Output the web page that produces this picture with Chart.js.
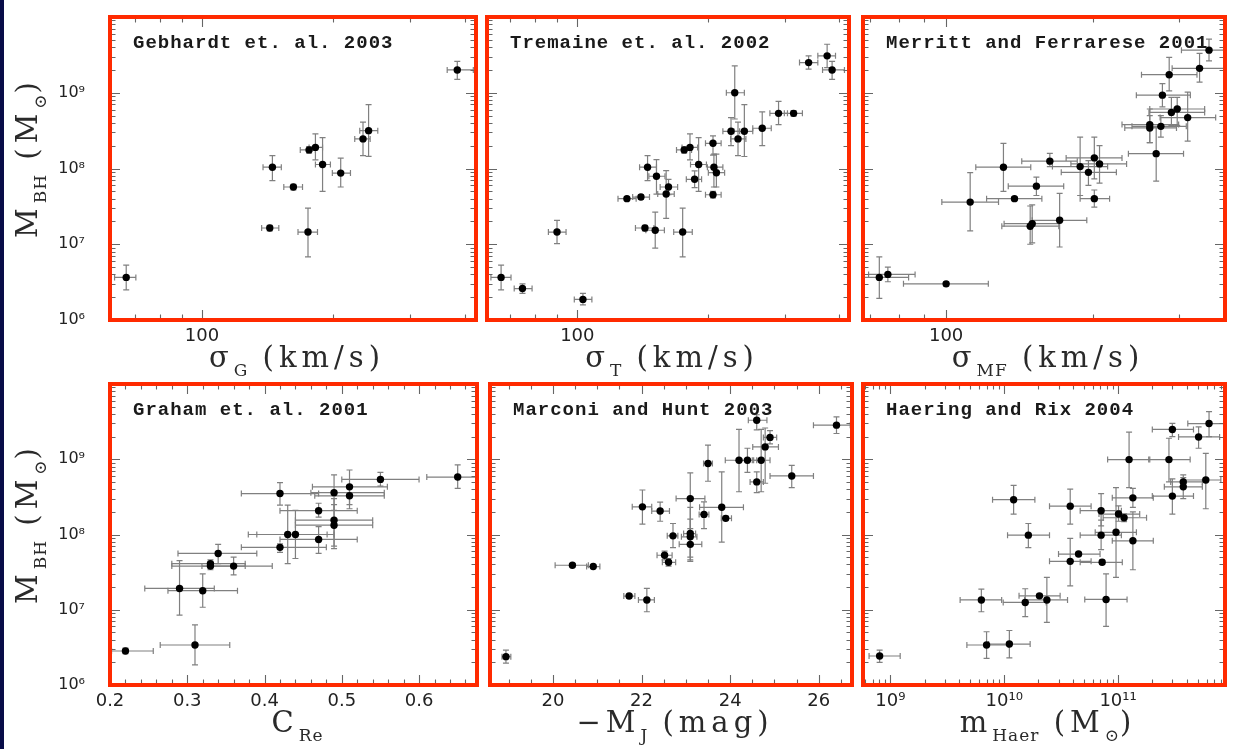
<!DOCTYPE html>
<html>
<head>
<meta charset="utf-8">
<script src="https://cdn.jsdelivr.net/npm/chart.js@4.4.1/dist/chart.umd.min.js"></script>
<style>
  body { margin: 0; background: #fff; width: 1234px; height: 749px; position: relative; overflow: hidden; }
  #strip { position: absolute; left: 0; top: 0; width: 4px; height: 749px; background: #080c48; }
  canvas { position: absolute; }
</style>
</head>
<body>
<div id="strip"></div>
<canvas id="p1"></canvas><canvas id="p2"></canvas><canvas id="p3"></canvas>
<canvas id="p4"></canvas><canvas id="p5"></canvas><canvas id="p6"></canvas>
<script>
// each point: [x, M_BH, x low, x high, M low, M high]
const gebhardt = [
  [67, 3.65e6, 63, 70.5, 2.5e6, 5.3e6], [385, 2.0e9, 365, 419, 1.5e9, 2.6e9],
  [145, 1.04e8, 138, 152, 6.9e7, 1.48e8], [143, 1.64e7, 137, 150, 1.5e7, 1.78e7],
  [162, 5.7e7, 154, 170, 5.2e7, 6.2e7], [175, 1.45e7, 166, 184, 6.8e6, 3.0e7],
  [176, 1.76e8, 168, 182, 1.6e8, 1.95e8], [182, 1.9e8, 176, 189, 1.3e8, 2.86e8],
  [189, 1.13e8, 182, 197, 5.0e7, 2.56e8], [208, 8.7e7, 199, 219, 5.7e7, 1.37e8],
  [234, 2.46e8, 224, 243, 1.48e8, 4.1e8], [241, 3.16e8, 230, 253, 1.45e8, 6.95e8]
];
const tremaine = [
  [66.8, 3.65e6, 63.3, 70.4, 2.5e6, 5.3e6], [74.8, 2.6e6, 71.6, 78.7, 2.24e6, 3.0e6],
  [103, 1.87e6, 98.4, 108, 1.58e6, 2.24e6], [89.8, 1.45e7, 85.8, 94.2, 1.02e7, 2.07e7],
  [130, 4.0e7, 124, 136.5, 3.8e7, 4.2e7], [140, 4.2e7, 134, 146.5, 3.9e7, 4.5e7],
  [145, 1.04e8, 139, 152, 6.9e7, 1.48e8], [152, 7.9e7, 146, 159, 4.6e7, 1.31e8],
  [143, 1.64e7, 136, 150, 1.5e7, 1.78e7], [151, 1.53e7, 143.7, 158.5, 8.9e6, 2.66e7],
  [162, 5.7e7, 155, 170, 4.5e7, 7.2e7], [160, 4.6e7, 153, 167, 2.2e7, 9.4e7],
  [174.6, 1.45e7, 166.5, 183.7, 6.8e6, 3.0e7], [176, 1.76e8, 169, 183, 1.6e8, 1.95e8],
  [181.5, 1.9e8, 174, 189, 1.3e8, 2.86e8], [190, 1.13e8, 182, 198, 5.0e7, 2.56e8],
  [186, 7.2e7, 178, 193, 5.6e7, 9.3e7], [205, 2.15e8, 197, 214, 1.5e8, 2.7e8],
  [206, 1.04e8, 199, 216, 5.7e7, 1.55e8], [208.7, 8.8e7, 200, 218, 5.7e7, 1.55e8],
  [205, 4.5e7, 197, 214, 4.1e7, 5.0e7], [230, 1.0e9, 220, 242, 4.5e8, 2.27e9],
  [225.5, 3.1e8, 216, 236, 2.0e8, 4.7e8], [234, 2.46e8, 225, 244, 1.48e8, 4.1e8],
  [242, 3.1e8, 229, 253, 1.44e8, 6.95e8], [266, 3.4e8, 253, 279, 2.0e8, 5.6e8],
  [290, 5.35e8, 277, 304, 3.8e8, 7.7e8], [314, 5.35e8, 299, 329, 4.9e8, 5.8e8],
  [340, 2.5e9, 324, 357, 2.05e9, 3.07e9], [375, 3.07e9, 357, 392, 2.14e9, 4.37e9],
  [385, 2.0e9, 366, 411, 1.5e9, 2.6e9]
];
const merritt = [
  [73, 3.65e6, 67.7, 83.8, 1.93e6, 6.8e6], [76, 4.0e6, 69.4, 86.4, 3.2e6, 5.0e6],
  [100, 3.0e6, 81.8, 122, 2.8e6, 3.2e6], [112, 3.6e7, 98, 128, 1.5e7, 8.8e7],
  [131, 1.04e8, 115, 149, 5.0e7, 2.15e8], [138, 4.0e7, 121, 157, 3.8e7, 4.2e7],
  [153, 5.85e7, 134, 174, 4.4e7, 7.7e7], [150, 1.87e7, 131.4, 170.5, 1.04e7, 3.3e7],
  [148.6, 1.73e7, 130, 170, 1.0e7, 3.2e7], [170.7, 2.07e7, 150, 194, 9.2e6, 4.7e7],
  [163, 1.25e8, 142.8, 185.5, 1.06e8, 1.58e8], [188, 1.06e8, 165, 214, 4.4e7, 2.6e8],
  [195.5, 8.9e7, 172, 223, 6.0e7, 1.27e8], [201, 1.38e8, 176, 229, 7.3e7, 2.6e8],
  [206, 1.15e8, 180, 234, 6.4e7, 2.0e8], [201, 4.0e7, 188, 216, 3.1e7, 5.2e7],
  [261, 3.8e8, 229, 299, 2.2e8, 6.1e8], [261, 3.43e8, 232, 296, 2.2e8, 5.0e8],
  [275, 3.6e8, 240, 310, 2.6e8, 5.0e8], [269, 1.57e8, 236, 306, 6.8e7, 3.5e8],
  [289, 5.5e8, 260, 338, 3.7e8, 8.7e8], [297, 6.1e8, 261, 338, 3.7e8, 8.7e8],
  [312, 4.7e8, 274, 356, 2.3e8, 1.02e9], [277, 9.3e8, 245, 316, 6.5e8, 1.32e9],
  [286, 1.73e9, 251, 326, 1.06e9, 2.93e9], [330, 2.1e9, 290, 380, 1.38e9, 3.3e9],
  [345, 3.65e9, 303, 395, 2.63e9, 5.1e9]
];
const graham = [
  [0.22, 2.83e6, 0.202, 0.256, 2.6e6, 3.1e6], [0.31, 3.4e6, 0.265, 0.355, 1.85e6, 6.3e6],
  [0.29, 1.92e7, 0.245, 0.335, 8.5e6, 4.5e7], [0.32, 1.79e7, 0.275, 0.365, 1.08e7, 3.0e7],
  [0.33, 3.8e7, 0.28, 0.375, 3.4e7, 4.3e7], [0.33, 4.1e7, 0.28, 0.375, 3.6e7, 4.6e7],
  [0.34, 5.6e7, 0.288, 0.39, 4.1e7, 7.4e7], [0.36, 3.8e7, 0.319, 0.41, 2.9e7, 5.0e7],
  [0.42, 6.75e7, 0.37, 0.48, 5.8e7, 7.5e7], [0.42, 3.5e8, 0.37, 0.47, 2.45e8, 4.9e8],
  [0.43, 1.0e8, 0.379, 0.481, 4.1e7, 2.45e8], [0.44, 1.0e8, 0.39, 0.49, 4.8e7, 2.1e8],
  [0.47, 2.07e8, 0.42, 0.52, 1.7e8, 2.6e8], [0.47, 8.6e7, 0.42, 0.52, 5.6e7, 1.27e8],
  [0.49, 3.6e8, 0.46, 0.555, 2.1e8, 6.2e8], [0.49, 1.55e8, 0.44, 0.54, 7.0e7, 3.0e8],
  [0.49, 1.33e8, 0.44, 0.54, 6.5e7, 2.5e8], [0.51, 4.3e8, 0.462, 0.559, 2.5e8, 7.2e8],
  [0.51, 3.27e8, 0.465, 0.555, 2.2e8, 4.3e8], [0.55, 5.4e8, 0.50, 0.60, 4.4e8, 6.7e8],
  [0.65, 5.8e8, 0.61, 0.675, 4.1e8, 8.4e8]
];
const marconi = [
  [18.94, 2.38e6, 18.85, 19.05, 1.95e6, 2.9e6], [20.44, 3.9e7, 20.05, 20.8, 3.7e7, 4.1e7],
  [20.91, 3.75e7, 20.76, 21.06, 3.6e7, 3.9e7], [21.72, 1.52e7, 21.6, 21.85, 1.42e7, 1.62e7],
  [22.12, 1.35e7, 21.93, 22.29, 9.4e6, 1.92e7], [22.02, 2.33e8, 21.79, 22.23, 1.37e8, 3.9e8],
  [22.42, 2.05e8, 22.23, 22.63, 1.5e8, 2.7e8], [22.52, 5.3e7, 22.35, 22.69, 4.6e7, 6.0e7],
  [22.61, 4.27e7, 22.47, 22.77, 3.8e7, 4.8e7], [22.71, 9.6e7, 22.58, 22.82, 6.7e7, 1.4e8],
  [23.1, 3.0e8, 22.78, 23.43, 7.2e7, 6.6e8], [23.1, 1.03e8, 22.95, 23.22, 4.6e7, 2.3e8],
  [23.1, 9.3e7, 22.9, 23.25, 5.0e7, 1.6e8], [23.1, 7.4e7, 22.85, 23.36, 4.4e7, 1.2e8],
  [23.41, 1.85e8, 23.3, 23.52, 1.2e8, 2.72e8], [23.5, 8.8e8, 23.4, 23.6, 5.1e8, 1.54e9],
  [23.81, 2.3e8, 23.31, 24.3, 7.9e7, 6.8e8], [23.9, 1.64e8, 23.8, 24.03, 1.55e8, 1.75e8],
  [24.2, 9.7e8, 23.89, 24.53, 3.7e8, 2.5e9], [24.39, 9.7e8, 24.2, 24.6, 6.7e8, 1.4e9],
  [24.7, 9.7e8, 24.5, 24.9, 3.7e8, 2.5e9], [24.6, 5.0e8, 24.45, 24.75, 3.6e8, 6.8e8],
  [24.79, 1.46e9, 24.51, 25.09, 4.8e8, 2.6e9], [24.9, 1.95e9, 24.75, 25.05, 1.6e9, 2.4e9],
  [24.6, 3.3e9, 24.41, 24.83, 2.45e9, 3.9e9], [25.39, 6.0e8, 24.9, 25.88, 4.2e8, 8.3e8],
  [26.4, 2.84e9, 25.88, 26.71, 2.2e9, 3.65e9]
];
const haering = [
  [8.05e8, 2.43e6, 6.5e8, 1.22e9, 2.0e6, 2.9e6], [6.3e9, 1.35e7, 4.1e9, 9.5e9, 9.4e6, 1.88e7],
  [7.0e9, 3.4e6, 4.7e9, 1.09e10, 2.26e6, 5.1e6], [1.11e10, 3.5e6, 7.3e9, 1.69e10, 2.3e6, 5.3e6],
  [1.21e10, 2.9e8, 7.9e9, 1.86e10, 1.86e8, 4.5e8], [1.63e10, 9.8e7, 1.07e10, 2.5e10, 6.7e7, 1.4e8],
  [1.53e10, 1.25e7, 9.8e9, 2.34e10, 8.1e6, 1.9e7], [2.04e10, 1.53e7, 1.35e10, 3.1e10, 1.45e7, 1.62e7],
  [2.37e10, 1.35e7, 1.51e10, 3.6e10, 6.8e6, 2.7e7], [3.8e10, 2.38e8, 2.5e10, 5.8e10, 1.37e8, 4.0e8],
  [3.8e10, 4.4e7, 2.5e10, 5.8e10, 2.07e7, 8.9e7], [4.5e10, 5.5e7, 3.0e10, 6.95e10, 5.2e7, 5.8e7],
  [7.1e10, 2.07e8, 4.65e10, 1.07e11, 1.3e8, 3.5e8], [7.1e10, 9.8e7, 4.65e10, 1.07e11, 6.3e7, 1.55e8],
  [7.25e10, 4.27e7, 4.65e10, 1.09e11, 4.0e7, 4.6e7], [7.85e10, 1.37e7, 5.1e10, 1.2e11, 6.0e6, 3.0e7],
  [9.6e10, 1.07e8, 6.3e10, 1.45e11, 2.7e7, 4.2e8], [1.01e11, 1.87e8, 6.8e10, 1.55e11, 1.5e8, 2.4e8],
  [1.13e11, 1.67e8, 7.4e10, 1.78e11, 1.48e8, 1.88e8], [1.25e11, 9.9e8, 8.1e10, 1.9e11, 4.2e8, 2.3e9],
  [1.35e11, 3.07e8, 8.9e10, 2.04e11, 2.3e8, 4.1e8], [1.35e11, 8.25e7, 8.9e10, 2.04e11, 3.4e7, 2.0e8],
  [2.8e11, 9.9e8, 1.86e11, 4.3e11, 5.0e8, 1.9e9], [3.0e11, 2.49e9, 2.0e11, 4.6e11, 2.0e9, 3.0e9],
  [3.0e11, 3.24e8, 2.0e11, 4.6e11, 1.86e8, 5.5e8], [3.74e11, 4.3e8, 2.55e11, 5.5e11, 3.0e8, 6.2e8],
  [3.74e11, 5.0e8, 2.9e11, 5.5e11, 4.4e8, 5.7e8], [5.1e11, 1.98e9, 3.4e11, 7.8e11, 1.4e9, 2.7e9],
  [5.9e11, 5.3e8, 3.8e11, 8.0e11, 2.2e8, 1.2e9], [6.3e11, 2.98e9, 4.1e11, 8.7e11, 2.0e9, 4.3e9]
];

// axis ranges and tick labels
const yRange = [1e6, 1e10];
const yTickLabels = [1e6, 1e7, 1e8, 1e9];
const sigmaTickLabels = [100];
const concTickLabels = [0.2, 0.3, 0.4, 0.5, 0.6];
const magTickLabels = [20, 22, 24, 26];
const massTickLabels = [1e9, 1e10, 1e11];

const panels = [
  { id: 'p1', data: gebhardt, label: 'Gebhardt et. al. 2003', xType: 'logarithmic', xRange: [61.5, 425], xLabels: sigmaTickLabels,
    xTitle: [['σ', 0], ['G', 1], [' (km/s)', 0]], yTitle: true },
  { id: 'p2', data: tremaine, label: 'Tremaine et. al. 2002', xType: 'logarithmic', xRange: [62, 421], xLabels: sigmaTickLabels,
    xTitle: [['σ', 0], ['T', 1], [' (km/s)', 0]] },
  { id: 'p3', data: merritt, label: 'Merritt and Ferrarese 2001', xType: 'logarithmic', xRange: [67.6, 372], xLabels: sigmaTickLabels,
    xTitle: [['σ', 0], ['MF', 1], [' (km/s)', 0]] },
  { id: 'p4', data: graham, label: 'Graham et. al. 2001', xType: 'linear', xRange: [0.2, 0.675], xLabels: concTickLabels,
    minor: 0.02, major: 0.1, xTitle: [['C', 0], ['Re', 1]], yTitle: true },
  { id: 'p5', data: marconi, label: 'Marconi and Hunt 2003', xType: 'linear', xRange: [18.58, 26.75], xLabels: magTickLabels,
    minor: 0.5, major: 2, xTitle: [['−M', 0], ['J', 1], [' (mag)', 0]] },
  { id: 'p6', data: haering, label: 'Haering and Rix 2004', xType: 'logarithmic', xRange: [5.75e8, 8.7e11], xLabels: massTickLabels,
    xTitle: [['m', 0], ['Haer', 1], [' (M', 0], ['⊙', 1], [')', 0]] }
];

// canvas boxes and plot areas (left, top, right, bottom) on the page
const layout = [
  { left: 0,   top: 0,   w: 482, h: 382, area: [110, 17, 476, 320] },
  { left: 478, top: 0,   w: 380, h: 382, area: [487, 17, 849, 320] },
  { left: 858, top: 0,   w: 376, h: 382, area: [863, 17, 1225, 320] },
  { left: 0,   top: 372, w: 482, h: 377, area: [110, 384, 477, 685] },
  { left: 478, top: 372, w: 380, h: 377, area: [490, 384, 852, 685] },
  { left: 858, top: 372, w: 376, h: 377, area: [863, 384, 1225, 685] }
];
const X_AXIS_H = 55;

const SUP = { '0': '⁰', '1': '¹', '2': '²', '3': '³', '4': '⁴', '5': '⁵', '6': '⁶', '7': '⁷', '8': '⁸', '9': '⁹' };
function powLabel(v) {
  const e = Math.round(Math.log10(v));
  return '10' + String(e).split('').map(c => SUP[c]).join('');
}

function tickMarks(type, min, max, step, majorStep) {
  const out = [];
  if (type === 'logarithmic') {
    for (let k = Math.floor(Math.log10(min)); k <= Math.ceil(Math.log10(max)); k++) {
      for (let d = 1; d <= 9; d++) {
        const v = d * Math.pow(10, k);
        if (v >= min * 0.9999 && v <= max * 1.0001) out.push({ v, major: d === 1 });
      }
    }
  } else {
    for (let i = Math.ceil(min / step - 1e-9); i * step <= max + 1e-9; i++) {
      const v = i * step;
      out.push({ v, major: Math.abs(v / majorStep - Math.round(v / majorStep)) < 1e-6 });
    }
  }
  return out;
}

function drawRich(ctx, parts, cx, baseY) {
  const fontFor = sub => sub ? '17px "DejaVu Serif"' : '29px "DejaVu Serif"';
  const spFor = sub => sub ? '1px' : '5px';
  const widths = parts.map(([t, sub]) => {
    ctx.font = fontFor(sub); ctx.letterSpacing = spFor(sub);
    return ctx.measureText(t).width;
  });
  let x = cx - widths.reduce((a, b) => a + b, 0) / 2;
  ctx.textAlign = 'left';
  ctx.textBaseline = 'alphabetic';
  parts.forEach(([t, sub], i) => {
    ctx.font = fontFor(sub); ctx.letterSpacing = spFor(sub);
    ctx.fillText(t, x, baseY + (sub ? 9 : 0));
    x += widths[i];
  });
  ctx.letterSpacing = '0px';
}

const panelPlugin = {
  id: 'panel',
  beforeDatasetsDraw(chart) {
    const { ctx, chartArea: a, scales: { x, y } } = chart;
    ctx.save();
    ctx.beginPath();
    ctx.rect(a.left, a.top, a.right - a.left, a.bottom - a.top);
    ctx.clip();
    ctx.strokeStyle = '#808080';
    ctx.lineWidth = 1.2;
    const cap = 3;
    chart.data.datasets[0].data.forEach(p => {
      const px = x.getPixelForValue(p.x), py = y.getPixelForValue(p.y);
      const x0 = x.getPixelForValue(p.xlo), x1 = x.getPixelForValue(p.xhi);
      const y0 = y.getPixelForValue(p.ylo), y1 = y.getPixelForValue(p.yhi);
      ctx.beginPath();
      ctx.moveTo(x0, py); ctx.lineTo(x1, py);
      ctx.moveTo(x0, py - cap); ctx.lineTo(x0, py + cap);
      ctx.moveTo(x1, py - cap); ctx.lineTo(x1, py + cap);
      ctx.moveTo(px, y0); ctx.lineTo(px, y1);
      ctx.moveTo(px - cap, y0); ctx.lineTo(px + cap, y0);
      ctx.moveTo(px - cap, y1); ctx.lineTo(px + cap, y1);
      ctx.stroke();
    });
    ctx.restore();
  },
  afterDraw(chart, args, opts) {
    const { ctx, chartArea: a, scales: { x, y } } = chart;
    ctx.save();
    // inward tick marks on all four sides
    ctx.strokeStyle = '#666';
    ctx.lineWidth = 1.1;
    ctx.beginPath();
    tickMarks(opts.xType, x.min, x.max, opts.minor, opts.major).forEach(t => {
      const px = Math.round(x.getPixelForValue(t.v)) + 0.5, len = t.major ? 10 : 5.5;
      ctx.moveTo(px, a.bottom); ctx.lineTo(px, a.bottom - len);
      ctx.moveTo(px, a.top); ctx.lineTo(px, a.top + len);
    });
    tickMarks('logarithmic', y.min, y.max).forEach(t => {
      const py = Math.round(y.getPixelForValue(t.v)) + 0.5, len = t.major ? 10 : 5.5;
      ctx.moveTo(a.left, py); ctx.lineTo(a.left + len, py);
      ctx.moveTo(a.right, py); ctx.lineTo(a.right - len, py);
    });
    ctx.stroke();
    // red frame
    ctx.strokeStyle = '#ff2a00';
    ctx.lineWidth = 4;
    ctx.strokeRect(a.left, a.top, a.right - a.left, a.bottom - a.top);
    // panel label
    ctx.fillStyle = '#1a1a1a';
    ctx.font = 'bold 19px "Liberation Mono"';
    ctx.letterSpacing = '1px';
    ctx.textAlign = 'left';
    ctx.textBaseline = 'alphabetic';
    ctx.fillText(opts.label, a.left + 23, a.top + 31);
    ctx.letterSpacing = '0px';
    // axis titles
    ctx.fillStyle = '#2a2a2a';
    drawRich(ctx, opts.xTitle, (a.left + a.right) / 2 + 4, a.bottom + 47);
    if (opts.yTitle) {
      ctx.translate(37, (a.top + a.bottom) / 2 - 11);
      ctx.rotate(-Math.PI / 2);
      drawRich(ctx, [['M', 0], ['BH', 1], [' (M', 0], ['⊙', 1], [')', 0]], 0, 0);
    }
    ctx.restore();
  }
};

Chart.defaults.font.family = '"DejaVu Sans"';
Chart.defaults.color = '#222';

panels.forEach((p, i) => {
  const L = layout[i];
  const cv = document.getElementById(p.id);
  cv.width = L.w; cv.height = L.h;
  cv.style.left = L.left + 'px'; cv.style.top = L.top + 'px';
  const yWidth = L.area[0] - L.left;
  new Chart(cv, {
    type: 'scatter',
    data: {
      datasets: [{
        data: p.data.map(r => ({ x: r[0], y: r[1], xlo: r[2], xhi: r[3], ylo: r[4], yhi: r[5] })),
        backgroundColor: '#000',
        borderWidth: 0,
        pointRadius: 3.7
      }]
    },
    options: {
      responsive: false,
      animation: false,
      layout: {
        padding: {
          left: 0,
          top: L.area[1] - L.top,
          right: L.left + L.w - L.area[2],
          bottom: L.top + L.h - L.area[3] - X_AXIS_H
        }
      },
      scales: {
        x: {
          type: p.xType,
          min: p.xRange[0], max: p.xRange[1],
          grid: { display: false, drawTicks: false },
          border: { display: false },
          afterBuildTicks: s => { s.ticks = p.xLabels.map(v => ({ value: v })); },
          afterFit: s => { s.height = X_AXIS_H; },
          ticks: {
            autoSkip: false, maxRotation: 0, padding: 6,
            font: { size: 18 },
            callback: v => p.xType === 'logarithmic' ? (v === 100 ? '100' : powLabel(v)) : String(v)
          }
        },
        y: {
          type: 'logarithmic',
          min: yRange[0], max: yRange[1],
          // invisible tick marks push the labels away from the frame
          grid: { display: true, drawOnChartArea: false, drawTicks: true, tickLength: 24, tickColor: 'rgba(0,0,0,0)' },
          border: { display: false },
          afterBuildTicks: s => { s.ticks = yTickLabels.map(v => ({ value: v })); },
          afterFit: s => { s.width = yWidth; },
          ticks: {
            display: !!p.yTitle, autoSkip: false, padding: 1,
            font: { size: 16 },
            callback: v => powLabel(v)
          }
        }
      },
      plugins: {
        legend: { display: false },
        tooltip: { enabled: false },
        panel: {
          label: p.label, xTitle: p.xTitle, yTitle: p.yTitle,
          xType: p.xType, minor: p.minor, major: p.major
        }
      }
    },
    plugins: [panelPlugin]
  });
});
</script>
</body>
</html>
